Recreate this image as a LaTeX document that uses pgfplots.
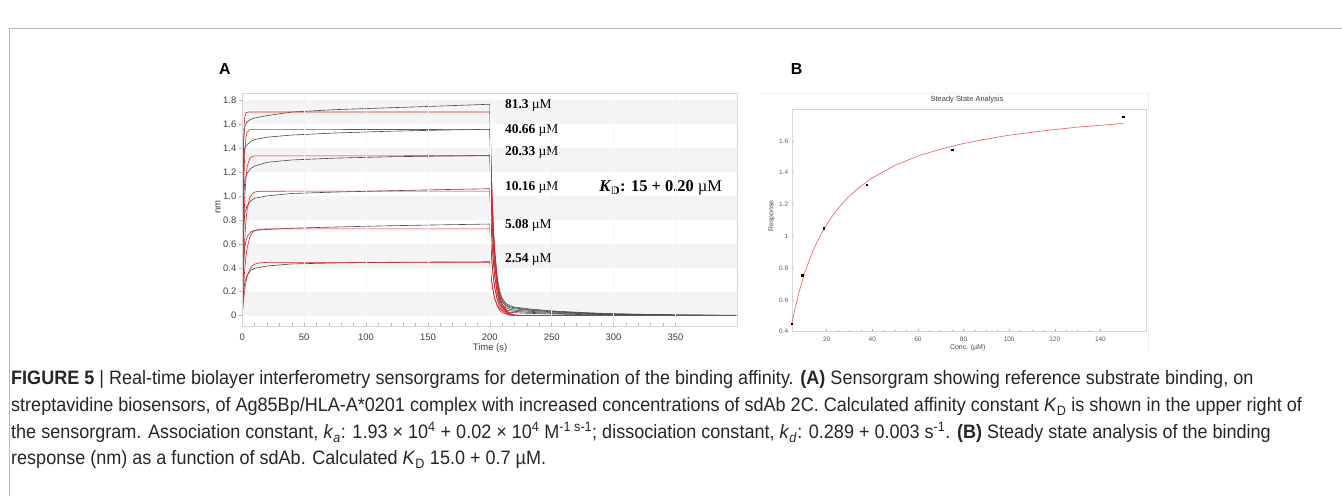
\documentclass[border=0pt]{standalone}
\usepackage{fontspec}
\setmainfont{Liberation Sans}
\newfontfamily\timesfont{Liberation Serif}
\newfontfamily\capfont[FakeStretch=0.928]{Liberation Sans}
\usepackage{pgfplots}
\pgfplotsset{compat=1.18}
\definecolor{fitred}{RGB}{225,35,35}
\definecolor{senseg}{RGB}{75,75,75}
\definecolor{band}{RGB}{245,245,245}
\definecolor{framegray}{RGB}{215,215,215}
\definecolor{ssred}{RGB}{240,105,105}
\begin{document}
\begin{tikzpicture}[x=1bp,y=1bp]
\useasboundingbox (0,0) rectangle (1342,496);
\draw[gray!55, line width=1bp] (9.4,0) -- (9.4,467.8) -- (1342,467.8);

% panel labels
\node[font=\bfseries\fontsize{16}{18}\selectfont] at (225,427) {A};
\node[font=\bfseries\fontsize{16}{18}\selectfont] at (796.7,427) {B};

% ---------- A: sensorgram ----------
\begin{axis}[
  at={(242.3bp,169.3bp)}, anchor=south west,
  scale only axis, width=494.4bp, height=233.7bp,
  xmin=0, xmax=399.5, ymin=-0.092, ymax=1.859,
  axis on top,
  axis line style={framegray},
  xtick={0,50,...,350}, minor x tick num=4,
  ytick={0,0.2,...,1.8},
  yticklabels={0,0.2,0.4,0.6,0.8,1.0,1.2,1.4,1.6,1.8},
  xtick pos=bottom, ytick pos=left,
  tick align=inside,
  major tick length=4bp, minor tick length=4bp,
  tick style={gray!55, line width=0.5bp},
  ytick style={xshift=-3bp},
  xmajorgrids, major grid style={gray!8, line width=0.6bp},
  ticklabel style={font=\fontsize{9.5}{10}\selectfont, text=black!75},
  xticklabel style={yshift=-3.5bp},
  yticklabel style={xshift=-2.5bp},
  /pgf/number format/assume math mode=true,
]
\fill[band] (axis cs:0,0) rectangle (axis cs:399.5,0.2);
\fill[band] (axis cs:0,0.4) rectangle (axis cs:399.5,0.6);
\fill[band] (axis cs:0,0.8) rectangle (axis cs:399.5,1.0);
\fill[band] (axis cs:0,1.2) rectangle (axis cs:399.5,1.4);
\fill[band] (axis cs:0,1.6) rectangle (axis cs:399.5,1.8);

% measured traces
\addplot[senseg, line width=0.6bp] coordinates {
(0,0.02)(0.5,1.0)(1,1.45)(2,1.58)(4,1.62)(7,1.64)(10,1.65)(20,1.67)(40,1.70)(75,1.72)(120,1.736)(160,1.75)(200,1.765)
(201,1.295)(202,0.957)(203,0.714)(204,0.538)(206,0.320)(208,0.205)(210,0.145)(213,0.102)(216,0.083)(220,0.072)
(230,0.058)(250,0.040)(275,0.026)(300,0.016)(350,0.007)(399,0.003)};
\addplot[senseg, line width=0.6bp] coordinates {
(0,0.02)(0.5,0.9)(1,1.3)(2,1.40)(4,1.43)(7,1.455)(10,1.47)(20,1.49)(40,1.508)(75,1.525)(120,1.54)(160,1.549)(200,1.556)
(201,1.142)(202,0.845)(203,0.630)(204,0.475)(206,0.283)(208,0.182)(210,0.129)(213,0.091)(216,0.074)(220,0.065)
(230,0.052)(250,0.036)(275,0.023)(300,0.015)(350,0.006)(399,0.002)};
\addplot[senseg, line width=0.6bp] coordinates {
(0,0.02)(0.5,0.6)(1,0.95)(2,1.13)(4,1.19)(7,1.23)(10,1.25)(20,1.28)(40,1.30)(75,1.315)(120,1.327)(160,1.332)(200,1.337)
(201,0.983)(202,0.727)(203,0.544)(204,0.410)(206,0.245)(208,0.158)(210,0.114)(213,0.080)(216,0.066)(220,0.058)
(230,0.046)(250,0.032)(275,0.020)(300,0.013)(350,0.005)(399,0.002)};
\addplot[senseg, line width=0.6bp] coordinates {
(0,0.02)(0.5,0.45)(1,0.7)(2,0.86)(4,0.92)(7,0.96)(10,0.98)(20,1.00)(40,1.02)(75,1.032)(120,1.043)(160,1.052)(200,1.06)
(201,0.779)(202,0.577)(203,0.432)(204,0.326)(206,0.195)(208,0.127)(210,0.091)(213,0.065)(216,0.054)(220,0.046)
(230,0.038)(250,0.026)(275,0.017)(300,0.011)(350,0.004)(399,0.002)};
\addplot[senseg, line width=0.6bp] coordinates {
(0,0.02)(0.5,0.25)(1,0.42)(2,0.58)(4,0.66)(7,0.70)(10,0.712)(20,0.72)(40,0.73)(75,0.74)(120,0.751)(160,0.758)(200,0.765)
(201,0.563)(202,0.418)(203,0.313)(204,0.238)(206,0.144)(208,0.094)(210,0.068)(213,0.049)(216,0.041)(220,0.036)
(230,0.029)(250,0.020)(275,0.013)(300,0.008)(350,0.003)(399,0.001)};
\addplot[senseg, line width=0.6bp] coordinates {
(0,0.02)(0.5,0.12)(1,0.2)(2,0.28)(4,0.34)(7,0.38)(10,0.395)(20,0.415)(40,0.432)(75,0.44)(120,0.446)(160,0.448)(200,0.45)
(201,0.332)(202,0.249)(203,0.187)(204,0.144)(206,0.088)(208,0.059)(210,0.044)(213,0.034)(216,0.028)(220,0.025)
(230,0.020)(250,0.014)(275,0.009)(300,0.006)(350,0.002)(399,0.001)};

% 1:1 fits
\addplot[fitred, line width=0.6bp] coordinates {
(0,0)(0.5,1.03)(1,1.435)(1.5,1.595)(2,1.659)(3,1.694)(5,1.70)(200,1.70)
(201,1.273)(202,0.954)(203,0.714)(204,0.536)(206,0.301)(208,0.168)(210,0.095)(215,0.022)(220,0.005)(230,0)(399,0)};
\addplot[fitred, line width=0.6bp] coordinates {
(0,0)(0.5,0.647)(1,1.023)(2,1.373)(3,1.493)(4,1.534)(6,1.553)(200,1.555)
(201,1.165)(202,0.872)(203,0.653)(204,0.490)(206,0.275)(208,0.154)(210,0.086)(215,0.020)(220,0.005)(230,0)(399,0)};
\addplot[fitred, line width=0.6bp] coordinates {
(0,0)(1,0.659)(2,0.993)(3,1.162)(4,1.247)(6,1.313)(8,1.329)(10,1.334)(200,1.335)
(201,1.000)(202,0.749)(203,0.561)(204,0.421)(206,0.236)(208,0.132)(210,0.074)(215,0.017)(220,0.004)(230,0)(399,0)};
\addplot[fitred, line width=0.6bp] coordinates {
(0,0)(1,0.399)(2,0.646)(3,0.797)(4,0.891)(6,0.983)(8,1.018)(10,1.032)(14,1.039)(200,1.04)
(201,0.779)(202,0.583)(203,0.437)(204,0.328)(206,0.184)(208,0.103)(210,0.058)(215,0.014)(220,0.003)(230,0)(399,0)};
\addplot[fitred, line width=0.6bp] coordinates {
(0,0)(1,0.232)(2,0.390)(3,0.497)(4,0.570)(6,0.653)(8,0.691)(10,0.709)(14,0.721)(20,0.724)(200,0.724)
(201,0.542)(202,0.406)(203,0.304)(204,0.228)(206,0.128)(208,0.072)(210,0.040)(215,0.009)(220,0.002)(230,0)(399,0)};
\addplot[fitred, line width=0.6bp] coordinates {
(0,0)(1,0.128)(2,0.218)(3,0.283)(4,0.330)(6,0.386)(8,0.415)(10,0.430)(14,0.441)(20,0.445)(200,0.445)
(201,0.333)(202,0.250)(203,0.187)(204,0.140)(206,0.079)(208,0.044)(210,0.025)(215,0.006)(220,0.001)(230,0)(399,0)};

% switch to dissociation
\addplot[fitred, densely dashed, line width=0.6bp] coordinates {(200,-0.092)(200,1.859)};

\node[anchor=west, font=\timesfont\fontsize{13.5}{15}\selectfont] at (axis cs:209.5,1.753) {\textbf{81.3} µM};
\node[anchor=west, font=\timesfont\fontsize{13.5}{15}\selectfont] at (axis cs:209.5,1.550) {\textbf{40.66} µM};
\node[anchor=west, font=\timesfont\fontsize{13.5}{15}\selectfont] at (axis cs:209.5,1.361) {\textbf{20.33} µM};
\node[anchor=west, font=\timesfont\fontsize{13.5}{15}\selectfont] at (axis cs:209.5,1.068) {\textbf{10.16} µM};
\node[anchor=west, font=\timesfont\fontsize{13.5}{15}\selectfont] at (axis cs:209.5,0.757) {\textbf{5.08} µM};
\node[anchor=west, font=\timesfont\fontsize{13.5}{15}\selectfont] at (axis cs:209.5,0.465) {\textbf{2.54} µM};
\node[anchor=west, font=\timesfont\fontsize{16.5}{18}\selectfont] at (axis cs:285.7,1.068)
  {\textbf{\textit{K}\textsubscript{D}: 15 + 0.20} µM};
\end{axis}
\node[font=\fontsize{9.5}{10}\selectfont, text=black!75] at (490,148) {Time (s)};
\node[font=\fontsize{9.5}{10}\selectfont, text=black!75, rotate=90] at (218,289.3) {nm};

% ---------- B: steady state ----------
\draw[gray!12, line width=0.8bp] (760,403) -- (1148.7,403) -- (1148.7,144);
\begin{axis}[
  at={(791.7bp,164.3bp)}, anchor=south west,
  scale only axis, width=354.3bp, height=222.7bp,
  xmin=4.6875, xmax=160, ymin=0.4, ymax=1.8,
  clip=false,
  axis line style={framegray},
  xtick={20,40,...,140}, ytick={0.4,0.6,...,1.6},
  minor x tick num=3, minor y tick num=3,
  xtick pos=bottom, ytick pos=left, tick align=inside,
  major tick length=2.5bp, minor tick length=1.5bp,
  tick style={gray!60, line width=0.5bp},
  ticklabel style={font=\fontsize{6.5}{7}\selectfont, text=black!65},
  xticklabel style={yshift=-2bp},
  /pgf/number format/assume math mode=true,
]
\addplot[ssred, line width=0.7bp] coordinates {
(4.6875,0.448)(6,0.537)(8,0.654)(10,0.752)(12.5,0.855)(15,0.940)(18,1.025)(22,1.118)(26,1.192)(30,1.253)
(35,1.316)(40,1.367)(50,1.446)(60,1.504)(70,1.548)(80,1.583)(90,1.611)(100,1.635)(115,1.663)(130,1.686)(150,1.709)};
\addplot[only marks, mark=square*, mark size=0.8bp, black] coordinates {
(4.6875,0.449)(9.375,0.755)(18.75,1.049)(37.5,1.324)(75,1.545)(150,1.751)};
\end{axis}
\node[font=\fontsize{7.5}{8}\selectfont, text=black!75] at (967,396.7) {Steady State Analysis};
\node[font=\fontsize{7}{8}\selectfont, text=black!70] at (967.7,148.3) {Conc. (µM)};
\node[font=\fontsize{7}{8}\selectfont, text=black!70, rotate=90] at (771.7,280) {Response};

% ---------- caption ----------
\begin{scope}[every node/.style={anchor=base west, inner sep=0pt, font=\capfont\fontsize{19.5}{24}\selectfont, text=black!85}]
\node at (11,111) {\textbf{FIGURE 5} | Real-time biolayer interferometry sensorgrams for determination of the binding affinity. \textbf{(A)} Sensorgram showing reference substrate binding, on};
\node at (11,84) {streptavidine biosensors, of Ag85Bp/HLA-A*0201 complex with increased concentrations of sdAb 2C. Calculated affinity constant \textit{K}\textsubscript{D} is shown in the upper right of};
\node at (11,57) {the sensorgram. Association constant, \textit{k}\textsubscript{\textit{a}}: 1.93 × 10\textsuperscript{4} + 0.02 × 10\textsuperscript{4} M\textsuperscript{-1 s-1}; dissociation constant, \textit{k}\textsubscript{\textit{d}}: 0.289 + 0.003 s\textsuperscript{-1}. \textbf{(B)} Steady state analysis of the binding};
\node at (11,31) {response (nm) as a function of sdAb. Calculated \textit{K}\textsubscript{D} 15.0 + 0.7 µM.};
\end{scope}
\end{tikzpicture}
\end{document}
